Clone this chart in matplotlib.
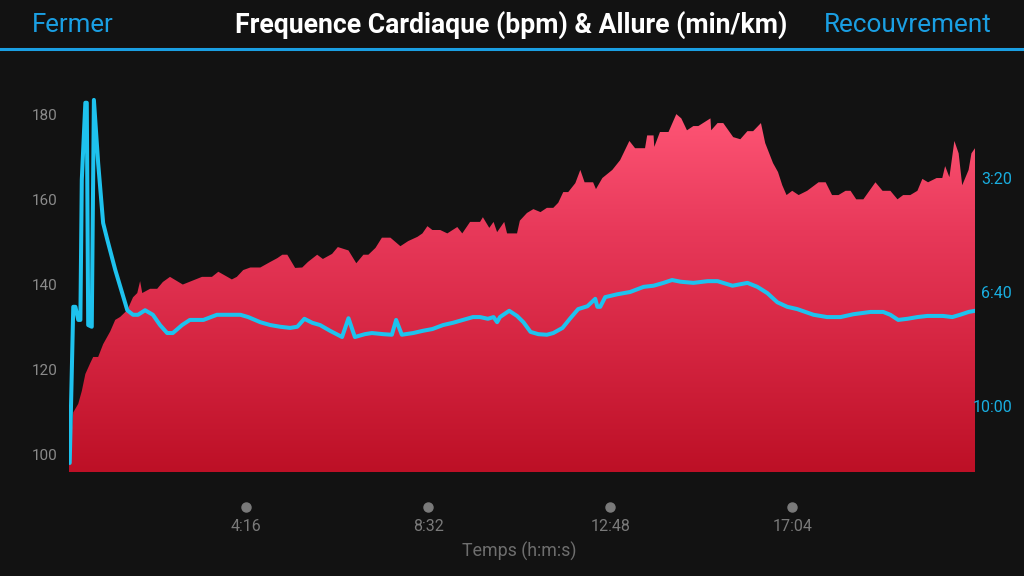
import numpy as np
import matplotlib
matplotlib.use("Agg")
import matplotlib.pyplot as plt
from matplotlib.colors import LinearSegmentedColormap
from matplotlib.patches import PathPatch
from matplotlib.lines import Line2D
import matplotlib.transforms as mtransforms

# ---- data ----
hr_time = [7, 13, 20, 25, 30, 37, 41, 48, 55, 65, 72, 79, 89, 97, 103, 107, 110,
           121, 131, 139, 149, 167, 182, 194, 208, 217, 236, 243, 252, 262, 276,
           290, 300, 307, 314, 325, 335, 343, 356, 364, 377, 385, 400, 411, 421,
           428, 438, 447, 459, 473, 484, 497, 504, 511, 518, 529, 539, 553, 560,
           571, 585, 589, 598, 604, 609, 619, 623, 637, 641, 651, 660, 670, 679,
           688, 695, 702, 709, 719, 726, 732, 744, 748, 757, 771, 782, 795, 803,
           817, 820, 829, 830, 838, 850, 861, 868, 876, 885, 892, 909, 910, 919,
           927, 941, 951, 961, 969, 980, 986, 997, 1004, 1010, 1016, 1024, 1033,
           1045, 1061, 1071, 1080, 1089, 1099, 1106, 1114, 1124, 1141, 1151, 1162,
           1172, 1180, 1190, 1200, 1207, 1215, 1227, 1235, 1239, 1245, 1252, 1258,
           1263, 1272, 1276, 1281]
hr_bpm = [98, 110, 112, 115, 119, 121.6, 123, 123, 126, 129, 131.7, 132.4, 134,
          137, 138, 140.8, 138, 139, 139, 140.6, 141.8, 140, 141, 141.8, 141.8,
          143, 141.2, 141.8, 143.4, 144, 144, 145.3, 146.2, 147, 147, 143.9, 144,
          145.3, 147, 146, 147.2, 148.8, 148, 145, 147, 147, 148.6, 151, 151, 149,
          150.2, 151.2, 152, 153.7, 152.8, 152.8, 152, 153.5, 152, 154.7, 154.7,
          155.8, 153.3, 154.7, 152.3, 154.7, 152, 152, 155, 156.8, 157.7, 157,
          158, 158, 159.2, 161.7, 161.7, 163.8, 166.9, 164, 164, 162.4, 165,
          166.9, 169.2, 173.7, 172, 172, 175, 175, 172.3, 175.8, 175.8, 180, 179,
          176.2, 177.2, 177.2, 179, 176.2, 177.9, 177.9, 174.6, 174.1, 176, 176,
          177.9, 173.2, 168.5, 166.4, 163.3, 161, 162, 161, 162, 164, 164, 161,
          161, 162, 162, 160, 160, 164, 162, 162, 160, 161, 161, 162, 164.8, 164,
          165, 165, 167.8, 165.2, 173.7, 170.8, 163.3, 166.9, 170.8, 172]

pace_time = [8, 13, 16, 20, 23, 25, 30, 32, 34, 39, 42, 48, 55, 61, 72, 89, 97,
             104, 114, 125, 135, 145, 153, 166, 177, 196, 215, 248, 259, 276,
             290, 304, 318, 328, 338, 349, 360, 374, 391, 400, 409, 423, 433,
             449, 461, 467, 475, 491, 505, 518, 533, 547, 561, 575, 585, 596, 604,
             609, 613, 626, 637, 646, 656, 667, 679, 688, 701, 712, 723, 736, 747,
             750, 754, 761, 778, 796, 815, 829, 843, 855, 867, 885, 905, 919, 940,
             961, 975, 989, 1003, 1017, 1031, 1054, 1073, 1092, 1110, 1134, 1152,
             1162, 1173, 1186, 1200, 1214, 1236, 1249, 1260, 1272, 1281]
pace_sec = [700, 426, 426, 449, 449, 203, 68, 68, 458, 461, 63, 174, 279, 309,
            361, 432, 440, 440, 432, 440, 458, 472, 472, 458, 449, 449, 440, 440,
            444, 453, 458, 461, 463, 461, 447, 454, 458, 468, 479, 446, 479, 474,
            472, 474, 475, 449, 475, 472, 468, 465, 458, 454, 449, 444, 444, 447,
            444, 453, 444, 433, 442, 453, 470, 474, 475, 472, 463, 446, 430, 425,
            412, 426, 426, 409, 404, 400, 391, 389, 384, 379, 382, 384, 381, 381,
            389, 384, 391, 402, 418, 426, 430, 440, 444, 444, 439, 435, 435, 440,
            449, 447, 444, 442, 442, 444, 440, 435, 433]

hr_ticks = [100, 120, 140, 160, 180]
pace_ticks = [200, 400, 600]
pace_tick_labels = ["3:20", "6:40", "10:00"]
time_ticks = [256, 512, 768, 1024]
time_tick_labels = ["4:16", "8:32", "12:48", "17:04"]

# ---- style ----
BG = "#121212"
BLUE_UI = "#1a9fe3"
CYAN = "#1ec2ee"
plt.rcParams['font.family'] = ['Roboto', 'DejaVu Sans']

W, H = 1024, 576
fig = plt.figure(figsize=(W / 100, H / 100), dpi=100, facecolor=BG)

x0, x1, ytop, ybot = 69, 975, 60, 472
ax = fig.add_axes([x0 / W, 1 - ybot / H, (x1 - x0) / W, (ybot - ytop) / H])
ax.set_facecolor(BG)
for s in ax.spines.values():
    s.set_visible(False)

# gradient-filled HR area
poly = ax.fill_between(hr_time, hr_bpm, 96.0, facecolor='none', edgecolor='none')
path = poly.get_paths()[0]
patch = PathPatch(path, transform=ax.transData, facecolor='none', edgecolor='none')
ax.add_patch(patch)
cmap = LinearSegmentedColormap.from_list(
    "hr", ["#bd1026", "#d42440", "#e8395a", "#ff5676"])
grad = np.linspace(0, 1, 256).reshape(-1, 1)
im = ax.imshow(grad, cmap=cmap, aspect='auto', origin='lower',
               extent=[7, 1281, 96.0, 181.0], zorder=1, interpolation='bilinear')
im.set_clip_path(patch)
ax.set_xlim(7, 1281)
ax.set_ylim(96.0, 192.7)

ax.set_yticks(hr_ticks)
ax.set_yticklabels([str(t) for t in hr_ticks])
ax.tick_params(axis='y', length=0, pad=8.5, labelsize=11, labelcolor="#8a8a8a")
ax.set_xticks(time_ticks)
ax.set_xticklabels(time_tick_labels)
ax.tick_params(axis='x', length=0, pad=34, labelsize=11.5, labelcolor="#7a7a7a")

# tick dots
trans = mtransforms.blended_transform_factory(ax.transData, ax.transAxes)
ax.plot(time_ticks, [-(507 - ybot) / (ybot - ytop)] * len(time_ticks), 'o',
        color="#7a7a7a", markersize=6.5, transform=trans, clip_on=False)

# pace axis
ax2 = ax.twinx()
ax2.set_ylim(715.8, -7)
for s in ax2.spines.values():
    s.set_visible(False)
ax2.plot(pace_time, pace_sec, color=CYAN, lw=2.9, solid_joinstyle='round',
         solid_capstyle='round', zorder=3)
ax2.set_yticks(pace_ticks)
ax2.set_yticklabels(pace_tick_labels)
ax2.tick_params(axis='y', length=0, pad=26.6, labelsize=11.5, labelcolor="#19aee0")
for lbl in ax2.get_yticklabels():
    lbl.set_horizontalalignment('right')

# x label
fig.text(519 / W, 1 - 551 / H, "Temps (h:m:s)", ha='center', va='center',
         fontsize=12.8, color="#6e6e6e")

# header
fig.text(32 / W, 1 - 25 / H, "Fermer", ha='left', va='center', fontsize=18.6,
         color=BLUE_UI)
fig.text(511 / W, 1 - 25 / H, "Frequence Cardiaque (bpm) & Allure (min/km)",
         ha='center', va='center', fontsize=19.2, color="white", fontweight='semibold')
fig.text(992 / W, 1 - 25 / H, "Recouvrement", ha='right', va='center',
         fontsize=18.8, color=BLUE_UI)
fig.add_artist(Line2D([0, 1], [1 - 49 / H, 1 - 49 / H], transform=fig.transFigure,
                      color=BLUE_UI, lw=2.2))

fig.savefig("out.png", dpi=100, facecolor=BG)
